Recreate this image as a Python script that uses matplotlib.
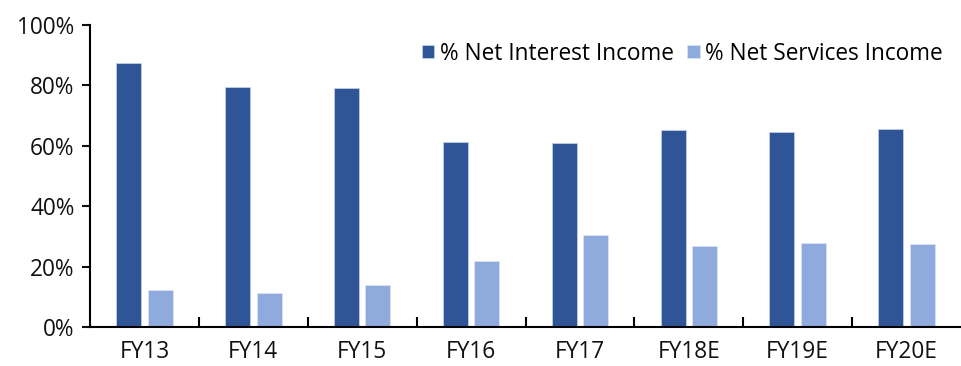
import numpy as np
import matplotlib.pyplot as plt
from matplotlib.ticker import FixedLocator, PercentFormatter

# Revenue mix by fiscal year
years = ['FY13', 'FY14', 'FY15', 'FY16', 'FY17', 'FY18E', 'FY19E', 'FY20E']
net_interest = [87.4, 79.5, 79.1, 61.3, 60.9, 65.2, 64.7, 65.7]
net_services = [12.3, 11.3, 13.9, 21.9, 30.4, 26.9, 27.8, 27.5]

plt.rcParams['font.family'] = ['Open Sans', 'DejaVu Sans']

fig = plt.figure(figsize=(9.61, 3.66), dpi=100)
ax = fig.add_axes([90 / 961, 1 - 327 / 366, 1 - 90 / 961, (327 - 25) / 366])

x = np.arange(len(years))
w = 0.23
ax.bar(x - 0.145, net_interest, w, color='#2F5597', edgecolor='#c9d5ea', linewidth=0.5,
       label='% Net Interest Income')
ax.bar(x + 0.145, net_services, w, color='#8FAADC', edgecolor='#dde6f5', linewidth=0.5,
       label='% Net Services Income')

ax.set_xlim(-0.5, len(years) - 0.5)
ax.set_ylim(0, 100)
ax.set_yticks(np.arange(0, 101, 20))
ax.yaxis.set_major_formatter(PercentFormatter(decimals=0))
ax.set_xticks(x)
ax.set_xticklabels(years)
ax.xaxis.set_minor_locator(FixedLocator(np.arange(0.5, len(years) - 0.5, 1)))
ax.tick_params(axis='x', which='major', length=0, pad=9, labelsize=16.3, colors='#111111')
ax.tick_params(axis='x', which='minor', direction='in', length=7, width=1.5)
ax.tick_params(axis='y', length=6, width=1.5, pad=5, labelsize=16.3, colors='#111111')

for s in ['top', 'right']:
    ax.spines[s].set_visible(False)
ax.spines['left'].set_linewidth(1.5)
ax.spines['bottom'].set_linewidth(1.5)

ax.legend(loc='upper right', bbox_to_anchor=(0.995, 0.99), ncol=2, frameon=False,
          fontsize=16.3, handlelength=0.55, handleheight=0.55, handletextpad=0.25,
          columnspacing=0.6, borderaxespad=0.2)

fig.savefig('out.png', dpi=100)
